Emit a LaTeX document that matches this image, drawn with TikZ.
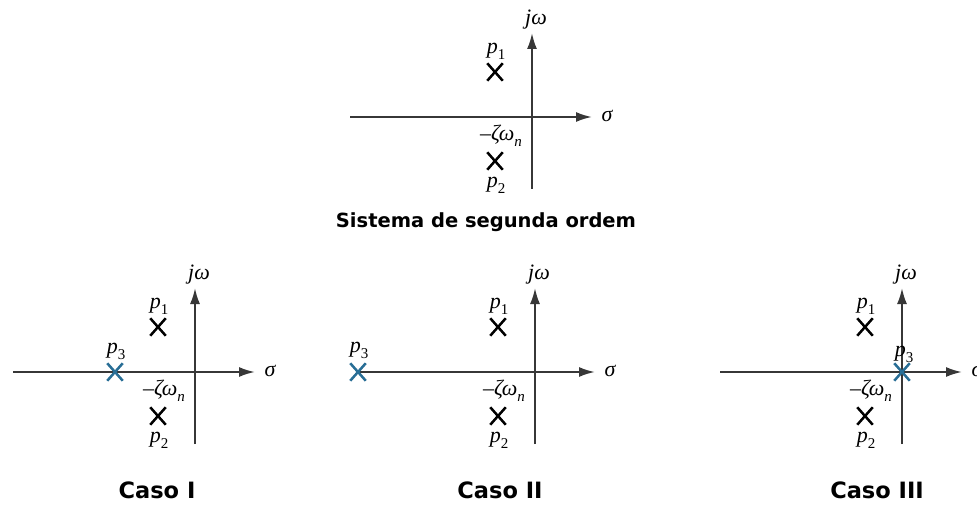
\documentclass[tikz,border=0pt]{standalone}
\usepackage{fontspec}
\setsansfont{DejaVu Sans}
\newfontfamily\tms{Liberation Serif}
\usetikzlibrary{calc,shapes.misc,arrows.meta}
\definecolor{axisgray}{RGB}{55,55,55}
\definecolor{polblue}{RGB}{40,110,150}
\newcommand{\subs}[1]{\raisebox{-0.28em}{\fontsize{15}{15}\selectfont #1}}
\tikzset{
 axis/.style={draw=axisgray, line width=2pt, -{Latex[length=16pt,width=10pt]}},
 pole/.style={draw=black, cross out, line width=2.5pt, minimum width=13pt, minimum height=15pt, inner sep=0pt},
 bluepole/.style={pole, draw=polblue},
 mlabel/.style={font={\tms\itshape\fontsize{22}{22}\selectfont}, inner sep=0pt},
 titletext/.style={font={\sffamily\bfseries\fontsize{19.5}{20}\selectfont}, inner sep=0pt, anchor=base},
 casetext/.style={font={\sffamily\bfseries\fontsize{22.5}{23}\selectfont}, inner sep=0pt, anchor=base}
}
\newcommand{\splane}[4]{%
 \coordinate (#1o) at (#2,#3);
 \coordinate (#1w) at ($(#1o)+(#4,0)$);
 \coordinate (#1e) at ($(#1o)+(60,0)$);
 \coordinate (#1s) at ($(#1o)+(0,72)$);
 \coordinate (#1n) at ($(#1o)+(0,-84)$);
 \draw[axis] (#1w) -- (#1e);
 \draw[axis] (#1s) -- (#1n);
 \node[mlabel] (#1jw) at ($(#1o)+(4,-97)$) {jω};
 \node[mlabel] (#1sig) at ($(#1o)+(75,-1)$) {σ};
 \node[mlabel] (#1p1l) at ($(#1o)+(-36,-66)$) {p\subs{\upshape 1}};
 \node[pole] (#1p1) at ($(#1o)+(-37,-45)$) {};
 \node[mlabel] (#1zw) at ($(#1o)+(-31,19)$) {–ζω\subs{n}};
 \node[pole] (#1p2) at ($(#1o)+(-37,44)$) {};
 \node[mlabel] (#1p2l) at ($(#1o)+(-36,68)$) {p\subs{\upshape 2}};
}
\begin{document}
\begin{tikzpicture}[x=1pt,y=-1pt]
\fill[white] (0,0) rectangle (977,505);
\useasboundingbox (0,0) rectangle (977,505);
\splane{a}{532}{117}{-182}
\node[titletext] (ta) at (486,227) {Sistema de segunda ordem};
\splane{b}{195}{372}{-182}
\node[bluepole] (bp3) at ($(bo)+(-80,0)$) {};
\node[mlabel] (bp3l) at ($(bo)+(-79,-21)$) {p\subs{\upshape 3}};
\node[casetext] (tb) at (157,498) {Caso I};
\splane{c}{535}{372}{-177}
\node[bluepole] (cp3) at (cw) {};
\node[mlabel] (cp3l) at ($(cw)+(1,-22)$) {p\subs{\upshape 3}};
\node[casetext] (tc) at (500,498) {Caso II};
\splane{d}{902}{372}{-182}
\node[bluepole] (dp3) at (do) {};
\node[mlabel] (dp3l) at ($(do)+(2,-18)$) {p\subs{\upshape 3}};
\node[casetext] (td) at (877,498) {Caso III};
\end{tikzpicture}
\end{document}
